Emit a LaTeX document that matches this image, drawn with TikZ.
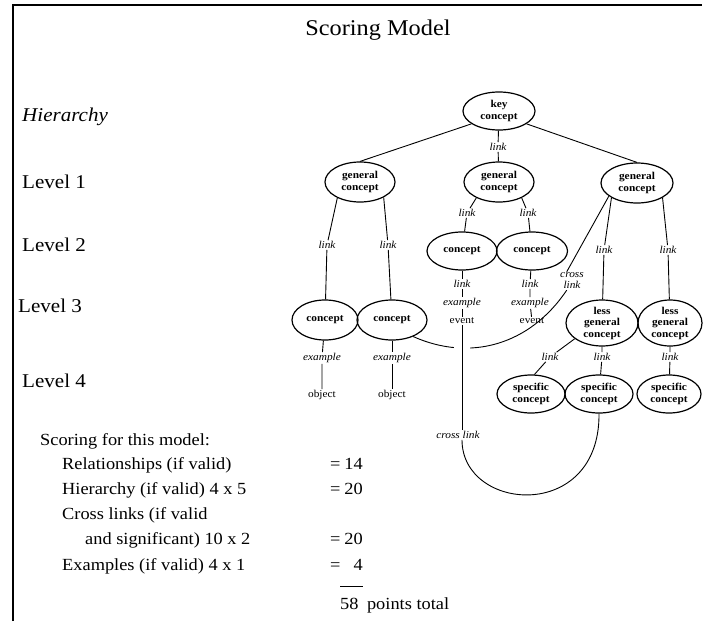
\documentclass[tikz,border=0pt]{standalone}
\usepackage{fontspec}
\setmainfont{Liberation Serif}[FakeStretch=1.08]
\usetikzlibrary{shapes.geometric}
\begin{document}
\begin{tikzpicture}[x=1pt,y=-1pt,
  concept/.style={ellipse, draw, line width=1.2pt, inner sep=0pt, align=center,
    font=\fontsize{10.5}{11.5}\selectfont\bfseries},
  sz/.style 2 args={minimum width=#1pt, minimum height=#2pt},
  lnk/.style={inner sep=1pt, align=center, font=\fontsize{10.5}{11}\selectfont\itshape},
  leaf/.style={inner sep=1pt, font=\fontsize{10.5}{11}\selectfont},
  conn/.style={line width=0.9pt},
  levellabel/.style={anchor=base west, inner sep=0pt, font=\fontsize{19.5}{22}\selectfont},
  body/.style={anchor=base west, inner sep=0pt, font=\fontsize{17}{20}\selectfont},
  num/.style={anchor=base east, inner sep=0pt, font=\fontsize{17}{20}\selectfont},
]
\useasboundingbox (0,0) rectangle (706,621);

% frame
\draw[line width=1.1pt] (13,621) -- (13,5) -- (702,5);

% title
\node[font=\fontsize{22.5}{26}\selectfont] (title) at (378,30) {Scoring Model};

% hierarchy levels
\node[levellabel] (hier) at (22,121) {\itshape Hierarchy};
\node[levellabel] (lev1) at (22,188) {Level 1};
\node[levellabel] (lev2) at (22,251) {Level 2};
\node[levellabel] (lev3) at (18,312) {Level 3};
\node[levellabel] (lev4) at (22,387) {Level 4};

% concepts
\node[concept, sz={72}{38}] (key) at (499,111) {key\\concept};
\node[concept, sz={70}{40}] (g1) at (360,182) {general\\concept};
\node[concept, sz={70}{40}] (g2) at (499,182) {general\\concept};
\node[concept, sz={72}{40}] (g3) at (637,183) {general\\concept};
\node[concept, sz={70}{38}] (c2a) at (462,251) {concept};
\node[concept, sz={71}{38}] (c2b) at (532,251) {concept};
\node[concept, sz={66}{40}] (c3a) at (325,320) {concept};
\node[concept, sz={70}{40}] (c3b) at (392,320) {concept};
\node[concept, sz={72}{44}] (lg1) at (602,323) {less\\general\\concept};
\node[concept, sz={64}{44}] (lg2) at (670,323) {less\\general\\concept};
\node[concept, sz={68}{38}] (s1) at (531,394) {specific\\concept};
\node[concept, sz={68}{38}] (s2) at (599,394) {specific\\concept};
\node[concept, sz={64}{38}] (s3) at (669,394) {specific\\concept};

% link words, examples and objects
\node[lnk] (lk0) at (498,147) {link};
\node[lnk] (l1) at (327,245) {link};
\node[lnk] (l2) at (388,245) {link};
\node[lnk] (lm1) at (467,213) {link};
\node[lnk] (lm2) at (528,213) {link};
\node[lnk] (lr1) at (604,250) {link};
\node[lnk] (lr2) at (668,250) {link};
\node[lnk] (la) at (462,284) {link};
\node[lnk] (xa) at (462,303) {example};
\node[leaf] (eva) at (462,321) {event};
\node[lnk] (lb) at (530,284) {link};
\node[lnk] (xb) at (530,303) {example};
\node[leaf] (evb) at (532,321) {event};
\node[lnk] (xc) at (322,358) {example};
\node[leaf] (oc) at (322,395) {object};
\node[lnk] (xd) at (392,358) {example};
\node[leaf] (od) at (392,395) {object};
\node[lnk] (ls1) at (550,357) {link};
\node[lnk] (ls2) at (602,357) {link};
\node[lnk] (ls3) at (670,357) {link};
\node[lnk] (xl) at (572,281) {cross\\link};
\node[lnk] (cl) at (458,435) {cross link};

% hierarchy connectors
\draw[conn] (key.205) -- (g1.north);
\draw[conn] (key.335) -- (g3.north);
\draw[conn] (key) -- (lk0) -- (g2);
\draw[conn] (g1.215) -- (l1) -- (c3a);
\draw[conn] (g1.327) -- (l2) -- (c3b);
\draw[conn] (g2.215) -- (lm1) -- (c2a);
\draw[conn] (g2.325) -- (lm2) -- (c2b);
\draw[conn] (g3.210) -- (lr1) -- (lg1);
\draw[conn] (g3.330) -- (lr2) -- (lg2);
\draw[conn] (c2a) -- (la) -- (xa) -- (eva);
\draw[conn] (c2b) -- (lb) -- (xb) -- (evb);
\draw[conn] (c3a) -- (xc) -- (oc);
\draw[conn] (c3b) -- (xd) -- (od);
\draw[conn] (lg1.210) -- (ls1) -- (s1.80);
\draw[conn] (lg1) -- (ls2) -- (s2);
\draw[conn] (lg2) -- (ls3) -- (s3);

% cross links
\draw[conn] (g3.205) -- (xl.120);
\draw[conn] (xl.-120) .. controls (530,345) and (470,362) .. (c3b.322);
\coordinate (clt) at (eva.south |- cl.north);
\coordinate (clb) at (eva.south |- cl.south);
\draw[conn, preaction={draw=white, line width=16pt}] (eva.south) -- (clt);
\draw[conn] (clb) .. controls (462,512) and (600,523) .. (s2.south);

% scoring
\node[body] (sc) at (40,445) {Scoring for this model:};
\node[body] (r1) at (62,469) {Relationships (if valid)};
\node[body] (r2) at (62,494) {Hierarchy (if valid) 4 x 5};
\node[body] (r3) at (62,519) {Cross links (if valid};
\node[body] (r4) at (85,544) {and significant) 10 x 2};
\node[body] (r5) at (62,570) {Examples (if valid) 4 x 1};
\node[body] (e1) at (330,469) {=};
\node[body] (e2) at (330,494) {=};
\node[body] (e4) at (330,544) {=};
\node[body] (e5) at (330,570) {=};
\node[num] (n1) at (363,469) {14};
\node[num] (n2) at (363,494) {20};
\node[num] (n4) at (363,544) {20};
\node[num] (n5) at (363,570) {4};
\draw[line width=0.9pt] (340,586) -- (363,586);
\node[body] (tot) at (340,609) {58\enspace points total};
\end{tikzpicture}
\end{document}
